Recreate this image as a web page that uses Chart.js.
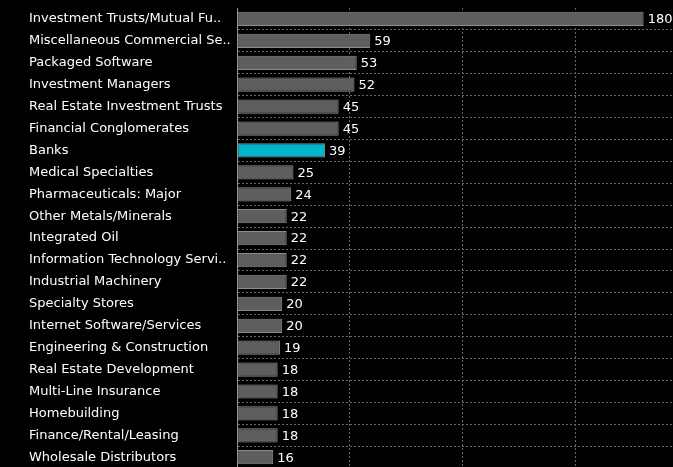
<!DOCTYPE html>
<html>
<head>
<meta charset="utf-8">
<script src="https://cdn.jsdelivr.net/npm/chart.js@4"></script>
<style>
  html, body { margin: 0; padding: 0; background: #000; overflow: hidden; }
  #wrap { width: 673px; height: 476px; }
</style>
</head>
<body>
<div id="wrap"><canvas id="industry-chart"></canvas></div>
<script>
const industries = [
    'Investment Trusts/Mutual Fu..',
    'Miscellaneous Commercial Se..',
    'Packaged Software',
    'Investment Managers',
    'Real Estate Investment Trusts',
    'Financial Conglomerates',
    'Banks',
    'Medical Specialties',
    'Pharmaceuticals: Major',
    'Other Metals/Minerals',
    'Integrated Oil',
    'Information Technology Servi..',
    'Industrial Machinery',
    'Specialty Stores',
    'Internet Software/Services',
    'Engineering & Construction',
    'Real Estate Development',
    'Multi-Line Insurance',
    'Homebuilding',
    'Finance/Rental/Leasing',
    'Wholesale Distributors'
];
const counts = [180, 59, 53, 52, 45, 45, 39, 25, 24, 22, 22, 22, 22, 20, 20, 19, 18, 18, 18, 18, 16];
const highlight = 'Banks';
const xTicks = [0, 50, 100, 150];

const font = 'DejaVu Sans';
const fontSize = 13;

// value text right after each bar
const valueLabels = {
    id: 'valueLabels',
    afterDatasetsDraw(chart){
        let ctx = chart.ctx;
        let meta = chart.getDatasetMeta(0);
        ctx.save();
        ctx.fillStyle = '#ffffff';
        ctx.font = fontSize + 'px "' + font + '"';
        ctx.textAlign = 'left';
        ctx.textBaseline = 'middle';
        meta.data.forEach(function(bar, i){
            ctx.fillText(String(counts[i]), bar.x + 4, bar.y + 1);
        });
        ctx.restore();
    }
};

function CreateBars(canva){
    let ctx = document.getElementById(canva);
    new Chart(ctx, {
        type: 'bar',
        data: {
            labels: industries,
            datasets: [{
                data: counts,
                backgroundColor: industries.map(n => n === highlight ? '#00b5cc' : '#5e5e5e'),
                borderColor: '#8c8c8c',
                borderWidth: 1,
                borderSkipped: false,
                categoryPercentage: 1,
                barPercentage: 0.65
            }]
        },
        options: {
            indexAxis: 'y',
            responsive: true,
            maintainAspectRatio: false,
            animation: false,
            layout: { padding: { left: 29, top: 8, right: 0, bottom: 0 } },
            plugins: { legend: { display: false }, tooltip: { enabled: false } },
            scales: {
                x: {
                    min: 0,
                    max: 193,
                    afterBuildTicks(axis){ axis.ticks = xTicks.map(v => ({ value: v })); },
                    afterFit(axis){ axis.height = 0; },
                    ticks: { display: false },
                    grid: { color: '#666666', drawTicks: false },
                    border: { display: false, dash: [2, 2] }
                },
                y: {
                    afterFit(axis){ axis.width = 208; },
                    ticks: {
                        color: '#ffffff',
                        font: { family: font, size: fontSize },
                        crossAlign: 'far',
                        padding: 0,
                        autoSkip: false
                    },
                    grid: {
                        color: c => c.index === 0 ? 'rgba(0,0,0,0)' : '#666666',
                        drawTicks: false,
                        offset: true
                    },
                    border: { display: true, color: '#9a9a9a', dash: [2, 2] }
                }
            }
        },
        plugins: [valueLabels]
    });
}

CreateBars('industry-chart');
</script>
</body>
</html>
